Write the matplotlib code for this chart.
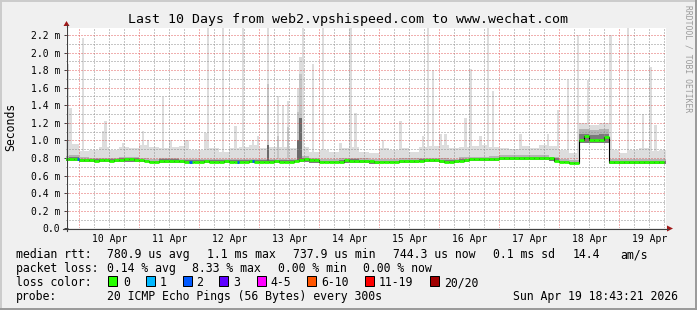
import numpy as np
import matplotlib
matplotlib.use('Agg')
import matplotlib.pyplot as plt
from matplotlib.lines import Line2D
from matplotlib.patches import Polygon, Rectangle

# ------------------------------------------------------------------ data
# time axis: hours since 10 Apr 00:00 ; graph spans Apr 9 18:43 -> Apr 19 18:43
t_start, t_end = -5.28, 234.72
day_labels = ['10 Apr', '11 Apr', '12 Apr', '13 Apr', '14 Apr',
              '15 Apr', '16 Apr', '17 Apr', '18 Apr', '19 Apr']
y_tick_values = [0.0, 0.2, 0.4, 0.6, 0.8, 1.0, 1.2, 1.4, 1.6, 1.8, 2.0, 2.2]
y_tick_labels = ['0.0', '0.2 m', '0.4 m', '0.6 m', '0.8 m', '1.0 m', '1.2 m',
                 '1.4 m', '1.6 m', '1.8 m', '2.0 m', '2.2 m']

# median rtt (ms), 2-hour bins starting at t = -6
median_edges = np.arange(-6, 236, 2)
median_rtt = [
    0.790, 0.790, 0.790,
    0.775, 0.772, 0.772, 0.770, 0.772, 0.772, 0.770, 0.774,
    0.782, 0.785, 0.785, 0.780,
    0.772, 0.762,
    0.755, 0.755,
    0.768, 0.770, 0.770, 0.768, 0.766,
    0.760, 0.760, 0.758, 0.760, 0.762, 0.760, 0.758, 0.760, 0.761, 0.760,
    0.758, 0.760, 0.760, 0.762, 0.760, 0.758, 0.760, 0.760, 0.761, 0.760,
    0.758, 0.760, 0.762,
    0.778, 0.785, 0.775, 0.772,
    0.758, 0.755, 0.755, 0.757, 0.760,
    0.772, 0.770, 0.768, 0.766, 0.765, 0.762,
    0.755, 0.755, 0.756, 0.757, 0.760,
    0.763, 0.765, 0.764, 0.763, 0.765,
    0.775, 0.777, 0.772,
    0.765, 0.760, 0.760, 0.762, 0.770,
    0.782, 0.785, 0.785, 0.783, 0.785, 0.786, 0.790,
    0.798, 0.800, 0.800, 0.798, 0.800, 0.800, 0.800, 0.798, 0.800, 0.800, 0.795,
    0.770, 0.760, 0.755, 0.748, 0.746,
    1.000, 1.045, 1.000, 1.000, 1.000, 1.040,
    0.755, 0.755, 0.753, 0.755, 0.752, 0.755, 0.755, 0.755, 0.756, 0.755, 0.755,
]

# smoke envelope (ms), 4-hour bins starting at t = -8
smoke_edges = np.arange(-8, 240, 4)
smoke_top = [
    1.00, 0.96, 0.88, 0.89, 0.92, 0.89, 0.93, 0.91, 0.95, 0.92,
    0.91, 0.93, 0.94, 0.89, 0.89, 0.91, 0.87, 0.91, 0.93, 0.95,
    0.91, 0.93, 0.92, 0.91, 0.92, 0.87, 0.89, 0.87, 0.91, 0.93,
    0.87, 0.86, 0.91, 0.89, 0.91, 0.87, 0.92, 0.94, 0.95, 0.91,
    0.92, 0.94, 0.95, 0.92, 0.91, 0.90, 0.94, 0.91, 0.95, 0.94,
    0.89, 0.86, 1.20, 1.17, 1.20, 0.89, 0.86, 0.89, 0.91, 0.88,
    0.89,
]
smoke_mid = [
    0.820, 0.830, 0.810, 0.800, 0.800, 0.800, 0.815, 0.810, 0.800, 0.790,
    0.800, 0.800, 0.790, 0.790, 0.790, 0.790, 0.790, 0.790, 0.790, 0.790,
    0.790, 0.790, 0.790, 0.790, 0.820, 0.800, 0.785, 0.785, 0.795, 0.800,
    0.795, 0.790, 0.785, 0.790, 0.795, 0.795, 0.800, 0.805, 0.795, 0.790,
    0.810, 0.815, 0.815, 0.820, 0.830, 0.830, 0.830, 0.830, 0.830, 0.815,
    0.790, 0.775, 1.130, 1.120, 1.130, 0.785, 0.785, 0.785, 0.785, 0.785,
    0.785,
]
smoke_dark = [
    0.805, 0.810, 0.790, 0.785, 0.785, 0.785, 0.800, 0.795, 0.780, 0.770,
    0.785, 0.785, 0.775, 0.775, 0.775, 0.775, 0.775, 0.775, 0.775, 0.775,
    0.775, 0.775, 0.775, 0.775, 0.800, 0.790, 0.770, 0.770, 0.780, 0.785,
    0.780, 0.770, 0.770, 0.770, 0.780, 0.780, 0.785, 0.790, 0.775, 0.775,
    0.790, 0.800, 0.800, 0.800, 0.815, 0.815, 0.815, 0.815, 0.815, 0.800,
    0.770, 0.760, 1.070, 1.060, 1.070, 0.770, 0.770, 0.770, 0.770, 0.770,
    0.770,
]
smoke_bot = [
    0.770, 0.770, 0.760, 0.755, 0.755, 0.755, 0.755, 0.760, 0.750, 0.740,
    0.745, 0.745, 0.740, 0.740, 0.740, 0.740, 0.740, 0.740, 0.740, 0.740,
    0.740, 0.745, 0.750, 0.750, 0.755, 0.745, 0.740, 0.740, 0.745, 0.745,
    0.740, 0.735, 0.740, 0.745, 0.745, 0.745, 0.750, 0.750, 0.745, 0.745,
    0.760, 0.765, 0.765, 0.765, 0.775, 0.775, 0.775, 0.775, 0.775, 0.765,
    0.740, 0.730, 0.975, 0.975, 0.975, 0.735, 0.735, 0.735, 0.735, 0.735,
    0.735,
]

# hourly max-ping spikes (start hour, max ms)
spike_t = [-5, -4, 1, 9, 10, 17, 25, 27, 33, 36, 42, 43, 50, 51, 57, 62, 65, 69,
           71, 75, 79, 81, 83, 87, 88, 89, 93, 97, 104, 108, 110, 121, 128, 137,
           139, 141, 144, 146, 154, 156, 160, 163, 165, 176, 187, 191, 195, 199,
           203, 212, 219, 225, 228, 230]
spike_max = [1.87, 1.37, 2.17, 1.11, 1.22, 0.97, 1.11, 1.01, 1.49, 1.00, 1.00,
             1.00, 1.08, 2.30, 2.30, 1.16, 2.30, 1.01, 1.05, 2.30, 1.50, 1.40,
             1.45, 1.59, 1.95, 2.30, 1.87, 2.30, 0.97, 2.30, 1.31, 1.00, 1.22,
             1.05, 2.30, 1.80, 1.07, 1.07, 1.26, 1.81, 1.05, 2.30, 1.56, 1.07,
             1.07, 1.35, 1.69, 2.20, 1.69, 2.20, 2.30, 1.30, 1.84, 1.17]
mid_spike_t = [75, 79, 83, 87, 88]
mid_spike_top = [1.64, 1.05, 1.15, 1.32, 1.75]
dark_spike_t = [75, 87, 88]
dark_spike_top = [0.95, 1.00, 1.25]

# hours with packet loss (start hour, loss class)
loss_t = [-1, 44, 63, 69]
loss_class = ['2', '2', '2', '2']

loss_names = ['0', '1', '2', '3', '4-5', '6-10', '11-19', '20/20']
loss_colors = ['#26ff00', '#00b8ff', '#0059ff', '#5e00ff', '#ff00ff',
               '#ff5500', '#ff0000', '#a10000']

title = 'Last 10 Days from web2.vpshispeed.com to www.wechat.com'
rtt_stats = ['780.9 us avg', '1.1 ms max', '737.9 us min', '744.3 us now',
             '0.1 ms sd', '14.4', 'am/s']
loss_stats = ['0.14 % avg', '8.33 % max', '0.00 % min', '0.00 % now']
probe_text = '20 ICMP Echo Pings (56 Bytes) every 300s'
stamp_text = 'Sun Apr 19 18:43:21 2026'

# ------------------------------------------------------------------ figure
W, H = 697, 310
plt.rcParams['font.family'] = ['DejaVu Sans Mono']
plt.rcParams['lines.scale_dashes'] = False


def fx(x):
    return x / W


def fy(y):
    return 1 - y / H


fig = plt.figure(figsize=(W / 100, H / 100), dpi=100, facecolor='#f0f0f0')
L, R, T, B = 66.1, 666.1, 28.3, 228.3
ax = fig.add_axes([fx(L), fy(B), (R - L) / W, (B - T) / H])
ax.set_facecolor('white')
for s in ax.spines.values():
    s.set_visible(False)
ax.set_xlim(t_start, t_end)
ax.set_ylim(0, 2.2756)

LIGHT, MID, DARK = '#dddddd', '#b4b4b4', '#7a7a7a'


def bin_value(arr, edges, t):
    i = np.searchsorted(edges, np.asarray(t), side='right') - 1
    return np.asarray(arr)[i]


ax.stairs(smoke_top, smoke_edges, baseline=smoke_bot, fill=True, color=LIGHT, lw=0, zorder=1)
sb = bin_value(smoke_bot, smoke_edges, spike_t)
ax.bar(spike_t, np.asarray(spike_max) - sb, bottom=sb, width=1, align='edge',
       color=LIGHT, lw=0, zorder=1)
ax.stairs(smoke_mid, smoke_edges, baseline=smoke_bot, fill=True, color=MID, lw=0, zorder=2)
sb = bin_value(smoke_bot, smoke_edges, mid_spike_t)
ax.bar(mid_spike_t, np.asarray(mid_spike_top) - sb, bottom=sb, width=1, align='edge',
       color='#c4c4c4', lw=0, zorder=2)
ax.stairs(smoke_dark, smoke_edges, baseline=smoke_bot, fill=True, color=DARK, lw=0, zorder=3)
sb = bin_value(smoke_bot, smoke_edges, dark_spike_t)
ax.bar(dark_spike_t, np.asarray(dark_spike_top) - sb, bottom=sb, width=1, align='edge',
       color='#6a6a6a', lw=0, zorder=3)

# grid (drawn over the smoke, rrdtool style dotted)
GRID = (0.56, 0.56, 0.56, 0.5)
MGRID = (0.87, 0.31, 0.31, 0.45)
for h in range(0, 235, 6):
    ax.axvline(h, color=MGRID if h % 24 == 0 else GRID, lw=0.72,
               linestyle=(0, (1.44, 1.44)), antialiased=False, zorder=4)
for k in range(1, 23):
    ax.axhline(k / 10, color=MGRID if k % 2 == 0 else GRID, lw=0.72,
               linestyle=(0, (1.44, 1.44)), antialiased=False, zorder=4)

# median line
ax.stairs(median_rtt, median_edges, baseline=None, color='black', lw=0.8, zorder=5)
ax.hlines(median_rtt, median_edges[:-1], median_edges[1:],
          colors=loss_colors[0], lw=2.0, zorder=6, capstyle='butt')
lv = bin_value(median_rtt, median_edges, loss_t)
lt = np.asarray(loss_t)
ax.hlines(lv, lt, lt + 1, colors=[loss_colors[loss_names.index(c)] for c in loss_class],
          lw=2.0, zorder=7, capstyle='butt')

# ticks
ax.set_xticks(np.arange(12, 12 + 24 * len(day_labels), 24), day_labels)
ax.tick_params(axis='x', length=0, pad=3.8, labelsize=7)
ax.set_yticks(y_tick_values, y_tick_labels)
ax.tick_params(axis='y', direction='inout', length=2.9, width=0.72, color='#404040',
               pad=2.95, labelsize=7)

# axes lines and arrows
AX = '#404040'
ARR = '#a01818'
fig.add_artist(Line2D([fx(63), fx(668)], [fy(228.5), fy(228.5)], color=AX, lw=0.8,
                      transform=fig.transFigure))
fig.add_artist(Line2D([fx(66.5), fx(66.5)], [fy(231), fy(25)], color=AX, lw=0.8,
                      transform=fig.transFigure))
fig.add_artist(Polygon([(fx(667), fy(225.5)), (fx(667), fy(231.5)), (fx(673), fy(228.5))],
                       closed=True, color=ARR, lw=0, transform=fig.transFigure))
fig.add_artist(Polygon([(fx(63.5), fy(26)), (fx(69.5), fy(26)), (fx(66.5), fy(21))],
                       closed=True, color=ARR, lw=0, transform=fig.transFigure))

# texts
fig.text(0.5, fy(23), title, ha='center', va='baseline', fontsize=9.5)
fig.text(fx(11), fy(126.7), 'Seconds', rotation=90, ha='center', va='center', fontsize=8.3)
fig.text(fx(687.7), fy(59), 'RRDTOOL / TOBI OETIKER', rotation=270, ha='center',
         va='center', fontsize=5.8, color='#9a9a9a')

LF = 8.3
fig.text(fx(15.5), fy(258), 'median rtt:', fontsize=LF, va='baseline')
for x, s in zip([106.8, 206.8, 292.8, 392.8, 492.8, 572.2, 620.5], rtt_stats):
    fig.text(fx(x), fy(258), s, fontsize=LF, va='baseline')
fig.text(fx(15.5), fy(272), 'packet loss:', fontsize=LF, va='baseline')
for x, s in zip([106.8, 192.2, 277.8, 362.8], loss_stats):
    fig.text(fx(x), fy(272), s, fontsize=LF, va='baseline')
fig.text(fx(15.5), fy(286), 'loss color:', fontsize=LF, va='baseline')
box_x = [108.3, 145.7, 182.7, 219.3, 256.7, 307.3, 365.0, 430.0]
lab_x = [123.3, 160.0, 196.7, 233.3, 270.7, 321.7, 379.3, 445.0]
for bx, lx, name, col in zip(box_x, lab_x, loss_names, loss_colors):
    fig.add_artist(Rectangle((fx(bx), fy(286)), 9 / W, 10 / H, facecolor=col,
                             edgecolor='black', lw=0.72, transform=fig.transFigure))
    fig.text(fx(lx - 0.5), fy(286), name, fontsize=LF, va='baseline')
fig.text(fx(15.5), fy(300), 'probe:', fontsize=LF, va='baseline')
fig.text(fx(106.8), fy(300), probe_text, fontsize=LF, va='baseline')
fig.text(fx(512.8), fy(300), stamp_text, fontsize=LF, va='baseline')

# bevelled frame
fig.add_artist(Line2D([0, 1], [fy(0.75), fy(0.75)], color='#cbcbcb', lw=1.4,
                      transform=fig.transFigure))
fig.add_artist(Line2D([fx(0.75), fx(0.75)], [0, 1], color='#cbcbcb', lw=1.4,
                      transform=fig.transFigure))
fig.add_artist(Line2D([0, 1], [fy(309.25), fy(309.25)], color='#999999', lw=1.4,
                      transform=fig.transFigure))
fig.add_artist(Line2D([fx(696.25), fx(696.25)], [0, 1], color='#999999', lw=1.4,
                      transform=fig.transFigure))

fig.savefig('out.png', dpi=100, facecolor=fig.get_facecolor())
